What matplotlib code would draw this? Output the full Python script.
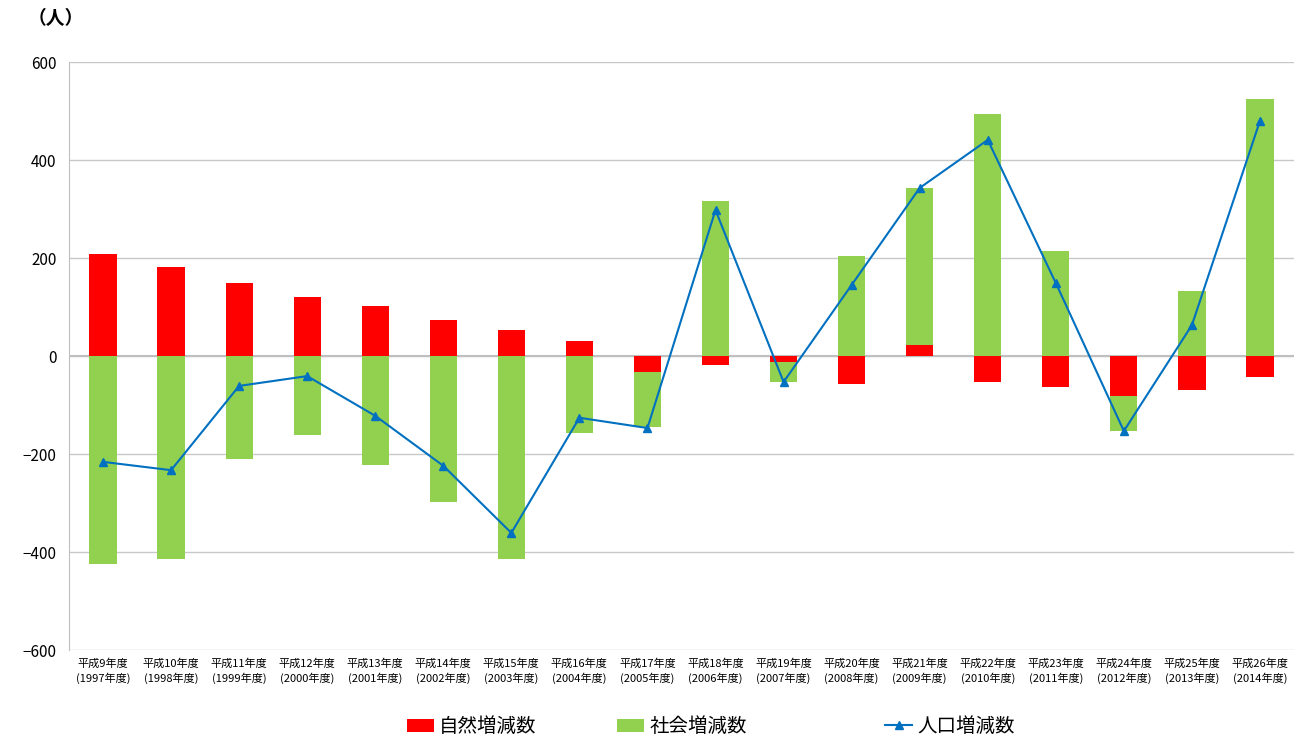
import numpy as np
import matplotlib
matplotlib.use("Agg")
import matplotlib.pyplot as plt
from matplotlib.lines import Line2D
from matplotlib.patches import Patch

plt.rcParams['font.family'] = ['Noto Sans CJK JP', 'DejaVu Sans']

# =========================
# Data
# =========================
labels = [
    "平成9年度\n(1997年度)", "平成10年度\n(1998年度)", "平成11年度\n(1999年度)",
    "平成12年度\n(2000年度)", "平成13年度\n(2001年度)", "平成14年度\n(2002年度)",
    "平成15年度\n(2003年度)", "平成16年度\n(2004年度)", "平成17年度\n(2005年度)",
    "平成18年度\n(2006年度)", "平成19年度\n(2007年度)", "平成20年度\n(2008年度)",
    "平成21年度\n(2009年度)", "平成22年度\n(2010年度)", "平成23年度\n(2011年度)",
    "平成24年度\n(2012年度)", "平成25年度\n(2013年度)", "平成26年度\n(2014年度)",
]
natural = [208, 182, 149, 120, 102, 73, 53, 31, -33, -18, -12, -57, 22, -53, -63, -82, -69, -43]
social = [-424, -414, -210, -161, -222, -298, -414, -157, -112, 316, -41, 204, 321, 494, 214, -71, 133, 524]
total = [-216, -233, -61, -41, -122, -224, -361, -126, -147, 298, -53, 145, 343, 441, 149, -153, 63, 480]

natural = np.array(natural, dtype=float)
social = np.array(social, dtype=float)

# stack like Excel: positives on positives, negatives on negatives
social_bottom = np.where(np.sign(social) == np.sign(natural), natural, 0.0)

x = np.arange(len(labels))

# =========================
# Plot
# =========================
fig = plt.figure(figsize=(12.94, 7.4), dpi=100)
ax = fig.add_axes([0.0533, 0.1216, 0.9467, 0.7946])

ax.bar(x, natural, width=0.4, color="#ff0000", zorder=3)
ax.bar(x, social, width=0.4, bottom=social_bottom, color="#92d050", zorder=3)
ax.plot(x, total, color="#0070c0", lw=1.5, marker="^", markersize=5.5, zorder=4)

ax.set_xlim(-0.5, len(labels) - 0.5)
ax.set_ylim(-600, 600)
ax.set_yticks(range(-600, 601, 200))
ax.yaxis.grid(True, color="#c8c8c8", lw=1)
ax.set_axisbelow(True)
ax.axhline(0, color="#bfbfbf", lw=1.5, zorder=2)

for s in ["top", "right", "bottom"]:
    ax.spines[s].set_visible(False)
ax.spines["left"].set_color("#bfbfbf")

ax.set_xticks(x)
ax.set_xticklabels(labels, fontsize=8, linespacing=1.4)
ax.tick_params(axis="x", length=0, pad=6)
ax.tick_params(axis="y", length=0, labelsize=11, pad=9)

fig.text(0.043, 0.975, "（人）", fontsize=13.5, fontweight="bold", ha="center", va="center")

# legend entries placed individually (uneven spacing as in the original)
handles = [
    Patch(facecolor="#ff0000"),
    Patch(facecolor="#92d050"),
    Line2D([], [], color="#0070c0", lw=1.5, marker="^", markersize=5.5),
]
names = ["自然増減数", "社会増減数", "人口増減数"]
starts = [0.3145, 0.4768, 0.684]
for h, n, x0 in zip(handles, names, starts):
    fig.legend([h], [n], loc="center left", bbox_to_anchor=(x0, 0.018),
               frameon=False, fontsize=14, borderpad=0, borderaxespad=0,
               handlelength=1.4, handletextpad=0.25)

fig.savefig("out.png", dpi=100)
